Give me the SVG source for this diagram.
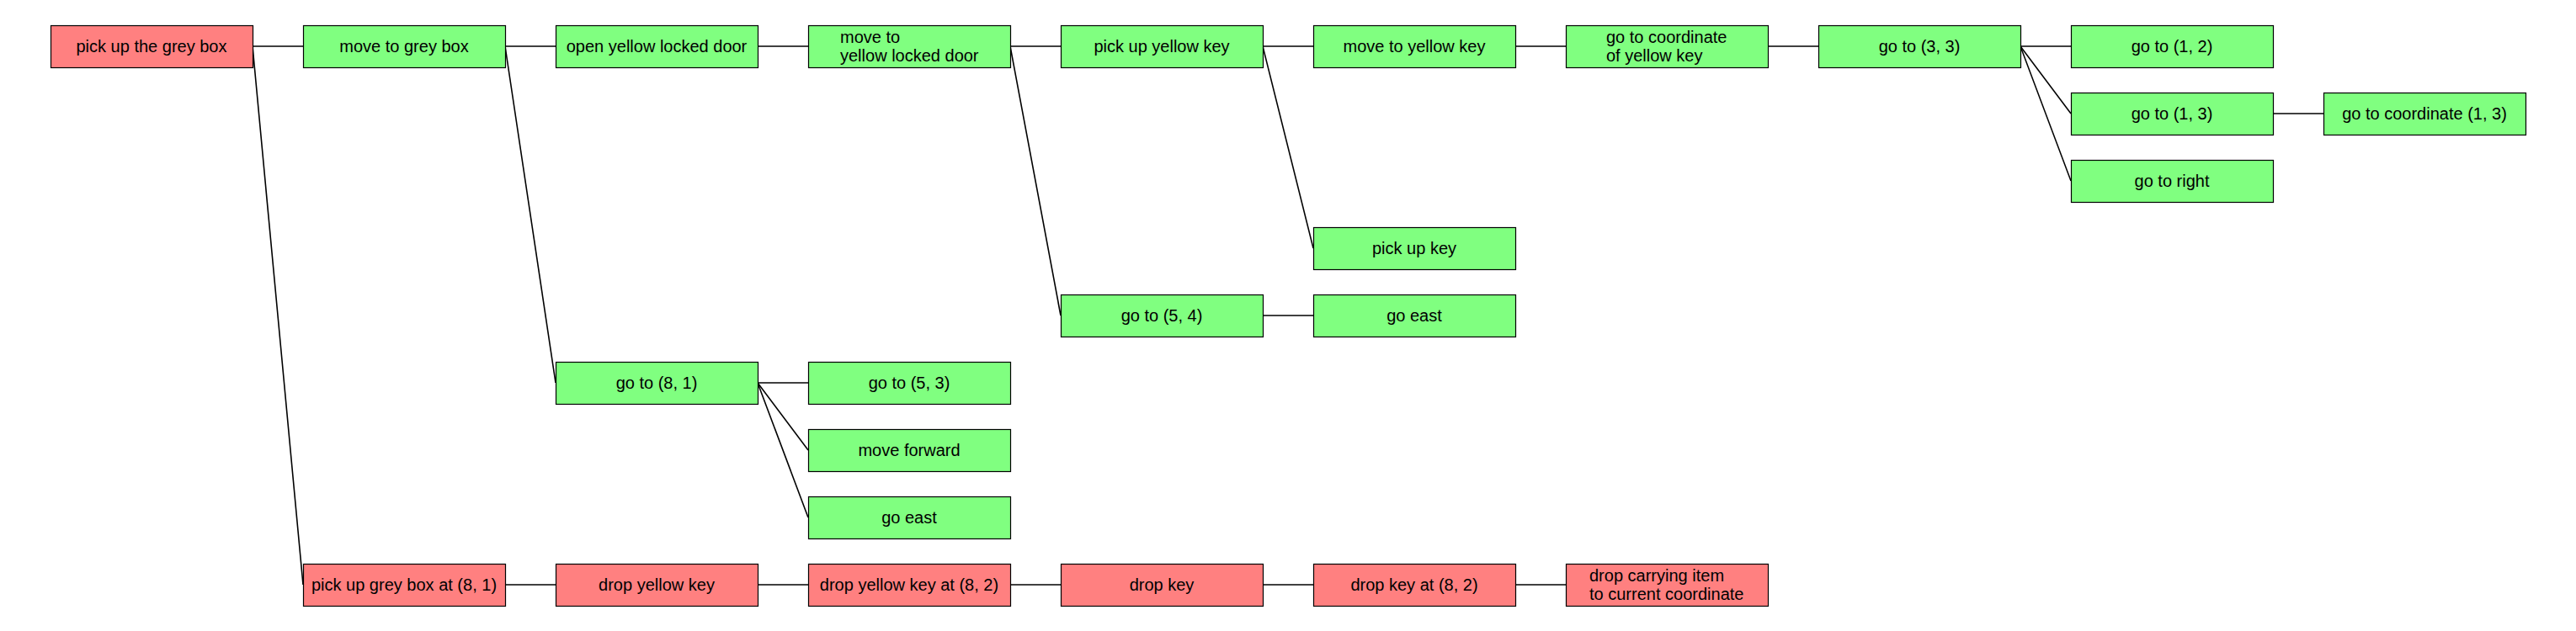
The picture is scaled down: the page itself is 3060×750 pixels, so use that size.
<svg xmlns="http://www.w3.org/2000/svg" width="3060" height="750" viewBox="0 0 3060 750">
<style>
.bg{fill:#ffffff}
.edge{stroke:#000000;stroke-width:1.6;fill:none}
.g rect{fill:#80FF80;stroke:#000000;stroke-width:1.2}
.r rect{fill:#FF8080;stroke:#000000;stroke-width:1.2}
text{font-family:"Liberation Sans",Arial,sans-serif;font-size:20px;fill:#000000}
.c{text-anchor:middle}
</style>
<rect class="bg" x="0" y="0" width="3060" height="750"/>
<g id="connectors">
<line class="edge" x1="300" y1="55" x2="360" y2="55"/>
<line class="edge" x1="300" y1="55" x2="360" y2="695"/>
<line class="edge" x1="600" y1="55" x2="660" y2="55"/>
<line class="edge" x1="600" y1="55" x2="660" y2="455"/>
<line class="edge" x1="900" y1="55" x2="960" y2="55"/>
<line class="edge" x1="1200" y1="55" x2="1260" y2="55"/>
<line class="edge" x1="1200" y1="55" x2="1260" y2="375"/>
<line class="edge" x1="1500" y1="55" x2="1560" y2="55"/>
<line class="edge" x1="1500" y1="55" x2="1560" y2="295"/>
<line class="edge" x1="1800" y1="55" x2="1860" y2="55"/>
<line class="edge" x1="2100" y1="55" x2="2160" y2="55"/>
<line class="edge" x1="2400" y1="55" x2="2460" y2="55"/>
<line class="edge" x1="2400" y1="55" x2="2460" y2="135"/>
<line class="edge" x1="2400" y1="55" x2="2460" y2="215"/>
<line class="edge" x1="2700" y1="135" x2="2760" y2="135"/>
<line class="edge" x1="1500" y1="375" x2="1560" y2="375"/>
<line class="edge" x1="900" y1="455" x2="960" y2="455"/>
<line class="edge" x1="900" y1="455" x2="960" y2="535"/>
<line class="edge" x1="900" y1="455" x2="960" y2="615"/>
<line class="edge" x1="600" y1="695" x2="660" y2="695"/>
<line class="edge" x1="900" y1="695" x2="960" y2="695"/>
<line class="edge" x1="1200" y1="695" x2="1260" y2="695"/>
<line class="edge" x1="1500" y1="695" x2="1560" y2="695"/>
<line class="edge" x1="1800" y1="695" x2="1860" y2="695"/>
</g>
<g id="n_pick_up_grey_box" class="r"><rect x="60.5" y="30.5" width="240" height="50"/><text class="c" x="180" y="62">pick up the grey box</text></g>
<g id="n_move_to_grey_box" class="g"><rect x="360.5" y="30.5" width="240" height="50"/><text class="c" x="480" y="62">move to grey box</text></g>
<g id="n_open_door" class="g"><rect x="660.5" y="30.5" width="240" height="50"/><text class="c" x="780" y="62">open yellow locked door</text></g>
<g id="n_move_to_door" class="g"><rect x="960.5" y="30.5" width="240" height="50"/><text x="998" y="51">move to</text><text x="998" y="73">yellow locked door</text></g>
<g id="n_pick_up_yellow_key" class="g"><rect x="1260.5" y="30.5" width="240" height="50"/><text class="c" x="1380" y="62">pick up yellow key</text></g>
<g id="n_move_to_yellow_key" class="g"><rect x="1560.5" y="30.5" width="240" height="50"/><text class="c" x="1680" y="62">move to yellow key</text></g>
<g id="n_goto_coord_key" class="g"><rect x="1860.5" y="30.5" width="240" height="50"/><text x="1908" y="51">go to coordinate</text><text x="1908" y="73">of yellow key</text></g>
<g id="n_goto_3_3" class="g"><rect x="2160.5" y="30.5" width="240" height="50"/><text class="c" x="2280" y="62">go to (3, 3)</text></g>
<g id="n_goto_1_2" class="g"><rect x="2460.5" y="30.5" width="240" height="50"/><text class="c" x="2580" y="62">go to (1, 2)</text></g>
<g id="n_goto_1_3" class="g"><rect x="2460.5" y="110.5" width="240" height="50"/><text class="c" x="2580" y="142">go to (1, 3)</text></g>
<g id="n_goto_coord_1_3" class="g"><rect x="2760.5" y="110.5" width="240" height="50"/><text class="c" x="2880" y="142">go to coordinate (1, 3)</text></g>
<g id="n_goto_right" class="g"><rect x="2460.5" y="190.5" width="240" height="50"/><text class="c" x="2580" y="222">go to right</text></g>
<g id="n_pick_up_key" class="g"><rect x="1560.5" y="270.5" width="240" height="50"/><text class="c" x="1680" y="302">pick up key</text></g>
<g id="n_goto_5_4" class="g"><rect x="1260.5" y="350.5" width="240" height="50"/><text class="c" x="1380" y="382">go to (5, 4)</text></g>
<g id="n_go_east_1" class="g"><rect x="1560.5" y="350.5" width="240" height="50"/><text class="c" x="1680" y="382">go east</text></g>
<g id="n_goto_8_1" class="g"><rect x="660.5" y="430.5" width="240" height="50"/><text class="c" x="780" y="462">go to (8, 1)</text></g>
<g id="n_goto_5_3" class="g"><rect x="960.5" y="430.5" width="240" height="50"/><text class="c" x="1080" y="462">go to (5, 3)</text></g>
<g id="n_move_forward" class="g"><rect x="960.5" y="510.5" width="240" height="50"/><text class="c" x="1080" y="542">move forward</text></g>
<g id="n_go_east_2" class="g"><rect x="960.5" y="590.5" width="240" height="50"/><text class="c" x="1080" y="622">go east</text></g>
<g id="n_pick_up_grey_box_at" class="r"><rect x="360.5" y="670.5" width="240" height="50"/><text class="c" x="480" y="702">pick up grey box at (8, 1)</text></g>
<g id="n_drop_yellow_key" class="r"><rect x="660.5" y="670.5" width="240" height="50"/><text class="c" x="780" y="702">drop yellow key</text></g>
<g id="n_drop_yellow_key_at" class="r"><rect x="960.5" y="670.5" width="240" height="50"/><text class="c" x="1080" y="702">drop yellow key at (8, 2)</text></g>
<g id="n_drop_key" class="r"><rect x="1260.5" y="670.5" width="240" height="50"/><text class="c" x="1380" y="702">drop key</text></g>
<g id="n_drop_key_at" class="r"><rect x="1560.5" y="670.5" width="240" height="50"/><text class="c" x="1680" y="702">drop key at (8, 2)</text></g>
<g id="n_drop_carrying" class="r"><rect x="1860.5" y="670.5" width="240" height="50"/><text x="1888" y="691">drop carrying item</text><text x="1888" y="713">to current coordinate</text></g>
</svg>
